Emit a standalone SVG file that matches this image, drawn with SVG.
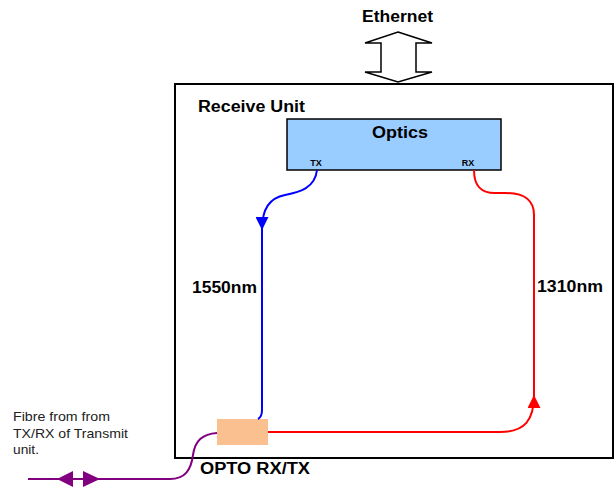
<svg xmlns="http://www.w3.org/2000/svg" width="616" height="492" viewBox="0 0 616 492">
<style>
.b{font-family:"Liberation Sans",Arial,sans-serif;font-weight:bold;fill:#000}
.r{font-family:"Liberation Sans",Arial,sans-serif;fill:#222}
.ln{fill:none;stroke-width:2}
</style>
<defs>
<marker id="ab" markerUnits="userSpaceOnUse" markerWidth="13" markerHeight="13" refX="13" refY="6.5" orient="auto"><path d="M0,0 L13,6.5 L0,13 z" fill="#0000FF"/></marker>
<marker id="ar" markerUnits="userSpaceOnUse" markerWidth="13" markerHeight="13" refX="13" refY="6.5" orient="auto"><path d="M0,0 L13,6.5 L0,13 z" fill="#FF0000"/></marker>
</defs>
<rect width="616" height="492" fill="#fff"/>
<g id="ethernet">
<text class="b" x="362" y="22" font-size="16" textLength="71" lengthAdjust="spacingAndGlyphs">Ethernet</text>
<polygon points="398,32 432,43 416,43 416,72 432,72 398,82 365,72 381,72 381,43 365,43" fill="#fff" stroke="#000" stroke-width="1.5"/>
</g>
<g id="receive-unit">
<rect x="175" y="84" width="438" height="374" fill="none" stroke="#000" stroke-width="2"/>
<text class="b" x="198" y="112" font-size="16" textLength="107" lengthAdjust="spacingAndGlyphs">Receive Unit</text>
</g>
<g id="optics">
<rect x="287" y="119" width="214" height="51" fill="#99CCFF" stroke="#000" stroke-width="1.5"/>
<text class="b" x="372" y="138" font-size="17" textLength="56" lengthAdjust="spacingAndGlyphs">Optics</text>
<text class="b" x="316" y="166" font-size="9" text-anchor="middle">TX</text>
<text class="b" x="468" y="166" font-size="9" text-anchor="middle">RX</text>
</g>
<g id="opto">
<rect x="217" y="419" width="51" height="26" fill="#FAC090"/>
<text class="b" x="200" y="474" font-size="16" textLength="110" lengthAdjust="spacingAndGlyphs">OPTO RX/TX</text>
</g>
<g id="fibre-label">
<text class="r" font-size="13"><tspan x="13" y="421" textLength="97" lengthAdjust="spacingAndGlyphs">Fibre from from</tspan><tspan x="13" y="438" textLength="115" lengthAdjust="spacingAndGlyphs">TX/RX of Transmit</tspan><tspan x="13" y="454" textLength="26" lengthAdjust="spacingAndGlyphs">unit.</tspan></text>
</g>
<g id="connectors">
<path class="ln" stroke="#0000FF" d="M317,170 C315,188 300,192 285,195 C270,198 262,208 262,230" marker-end="url(#ab)"/>
<path class="ln" stroke="#0000FF" d="M262,229 L262,410 Q262,417 258,419"/>
<path class="ln" stroke="#FF0000" d="M268,432 L500,432 C525,432 534,420 534,395" marker-end="url(#ar)"/>
<path class="ln" stroke="#FF0000" d="M534,396 L534,215 C534,200 525,193 505,193 L495,193 C480,193 474,185 474,170"/>
<path class="ln" stroke="#800080" d="M217,433 C203,434 195,440 193,455 C191,470 185,479 170,479 L28,479"/>
<polygon points="57,479 73,471 73,487" fill="#800080"/>
<polygon points="100,479 83,471 83,487" fill="#800080"/>
<text class="b" x="192" y="293" font-size="16" textLength="65" lengthAdjust="spacingAndGlyphs">1550nm</text>
<text class="b" x="537" y="292" font-size="16" textLength="66" lengthAdjust="spacingAndGlyphs">1310nm</text>
</g>
</svg>
